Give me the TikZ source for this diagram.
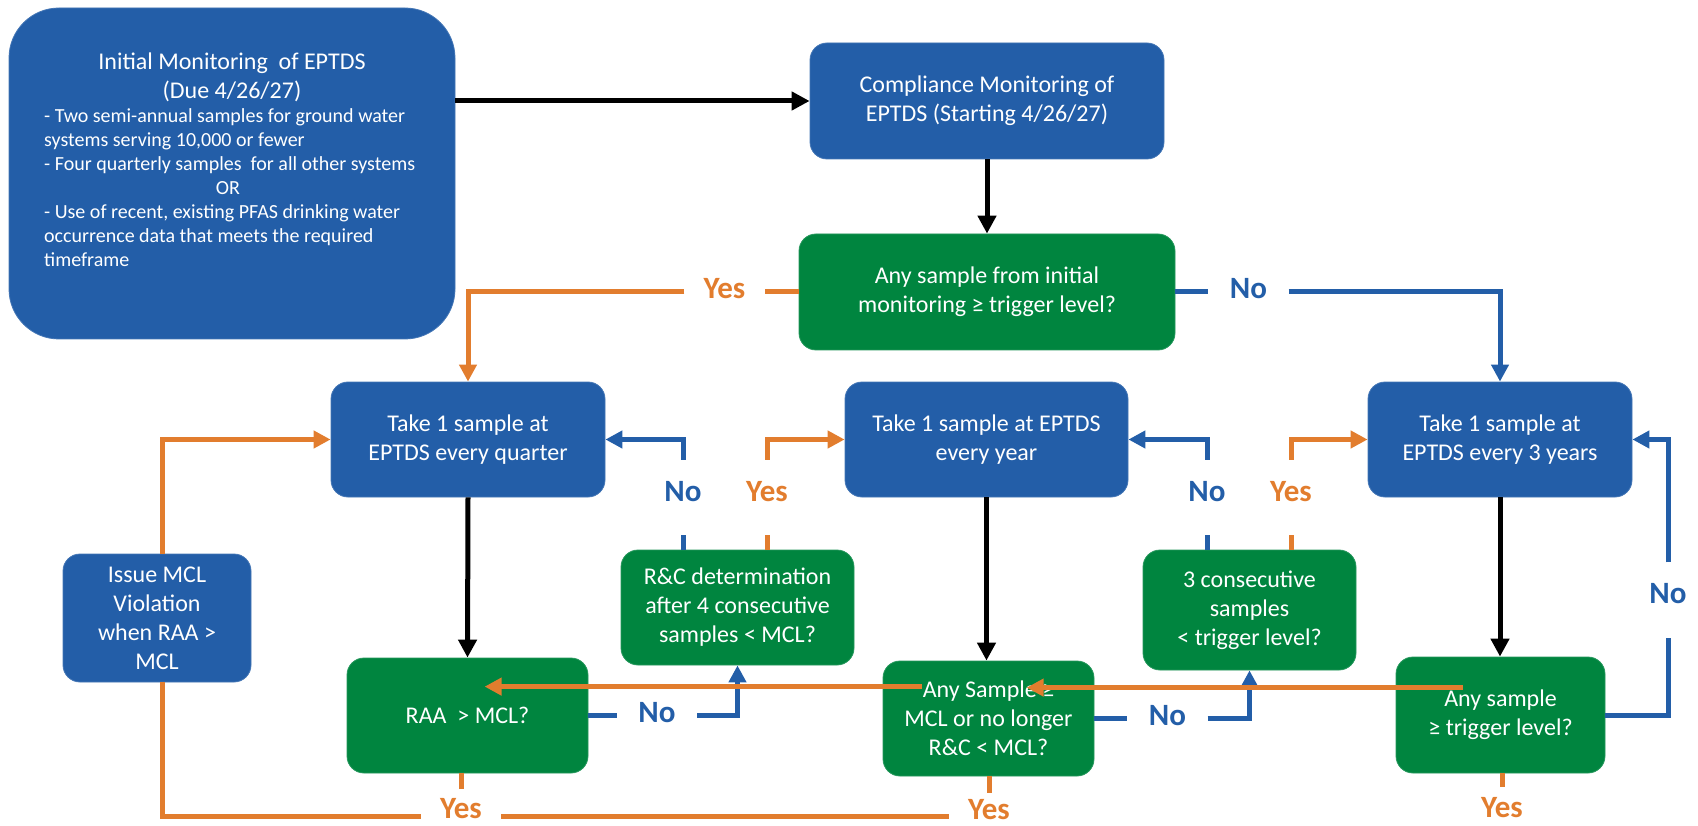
\documentclass[tikz,border=0pt]{standalone}
\usepackage{fontspec}
\setmainfont{Carlito}
\usetikzlibrary{arrows.meta}
\definecolor{boxblue}{HTML}{235EA8}
\definecolor{boxgreen}{HTML}{00853F}
\definecolor{lineorange}{HTML}{E27D2E}
\begin{document}
\begin{tikzpicture}[x=1pt,y=-1pt,
  box/.style={rectangle, rounded corners=17pt, text=white, align=center,
    font=\fontsize{24}{29}\selectfont, inner sep=0pt, draw=#1!85!white,
    line width=0.8pt, fill=#1},
  bluebox/.style={box=boxblue},
  greenbox/.style={box=boxgreen},
  wtext/.style={text=white, inner sep=0pt},
  lab/.style={font=\fontsize{31}{31}\selectfont\bfseries, inner sep=0pt,
    text height=21pt, text=#1},
  hlab/.style={lab=#1, minimum width=80pt, text depth=7pt},
  vlab/.style={lab=#1, minimum height=75pt, text depth=14pt},
  blab/.style={lab=#1, minimum width=80pt, text depth=0pt},
  bk/.style={draw=black, line width=5pt, -{Triangle[length=18pt,width=18pt]}},
  bl/.style={draw=boxblue, line width=5pt},
  ba/.style={bl, -{Triangle[length=17pt,width=17pt]}},
  ol/.style={draw=lineorange, line width=5pt},
  oa/.style={ol, -{Triangle[length=17pt,width=17pt]}}
]
\useasboundingbox (0,0) rectangle (1698,826);

% ---- boxes ----
\node[bluebox, rounded corners=50pt, minimum width=446pt, minimum height=331pt] (init) at (232,173.5) {};
\node[wtext, font=\fontsize{24}{29}\selectfont, anchor=base] (t1) at (232,70) {Initial Monitoring\ \ of EPTDS};
\node[wtext, font=\fontsize{24}{29}\selectfont, anchor=base] (t2) at (232,99) {(Due 4/26/27)};
\node[wtext, font=\fontsize{20}{24}\selectfont, anchor=base west] (b1) at (44,123) {- Two semi-annual samples for ground water};
\node[wtext, font=\fontsize{20}{24}\selectfont, anchor=base west] (b2) at (44,147) {systems serving 10,000 or fewer};
\node[wtext, font=\fontsize{20}{24}\selectfont, anchor=base west] (b3) at (44,171) {- Four quarterly samples\ \ for all other systems};
\node[wtext, font=\fontsize{20}{24}\selectfont, anchor=base] (b4) at (228,195) {OR};
\node[wtext, font=\fontsize{20}{24}\selectfont, anchor=base west] (b5) at (44,219) {- Use of recent, existing PFAS drinking water};
\node[wtext, font=\fontsize{20}{24}\selectfont, anchor=base west] (b6) at (44,243) {occurrence data that meets the required};
\node[wtext, font=\fontsize{20}{24}\selectfont, anchor=base west] (b7) at (44,267) {timeframe};

\node[bluebox, minimum width=354pt, minimum height=116pt] (comp) at (987,101) {Compliance Monitoring of\\EPTDS (Starting 4/26/27)};
\node[greenbox, minimum width=376pt, minimum height=116pt] (q1) at (987,292) {Any sample from initial\\monitoring ≥ trigger level?};
\node[bluebox, minimum width=274pt, minimum height=115pt] (quarter) at (468,439.5) {Take 1 sample at\\EPTDS every quarter};
\node[bluebox, minimum width=283pt, minimum height=115pt] (year) at (986.5,439.5) {Take 1 sample at EPTDS\\every year};
\node[bluebox, minimum width=264pt, minimum height=115pt] (three) at (1500,439.5) {Take 1 sample at\\EPTDS every 3 years};
\node[greenbox, minimum width=233pt, minimum height=115pt] (rc) at (737.5,607.5) {R\&C determination\\after 4 consecutive\\samples < MCL?};
\node[greenbox, minimum width=213pt, minimum height=120pt] (cons) at (1249.5,610) {3 consecutive\\samples\\< trigger level?};
\node[greenbox, minimum width=241pt, minimum height=115pt] (raa) at (467.5,715.5) {RAA\ \ > MCL?};
\node[greenbox, minimum width=211pt, minimum height=115pt] (mid) at (988.5,718.5) {Any Sample ≥\\MCL or no longer\\R\&C < MCL?};
\node[greenbox, minimum width=209pt, minimum height=116pt] (right) at (1500.5,715) {Any sample\\≥ trigger level?};
\node[bluebox, minimum width=188pt, minimum height=128pt] (issue) at (157,618) {Issue MCL\\Violation\\when RAA >\\MCL};

% ---- labels ----
\node[hlab=lineorange] (yq1) at (724.5,292) {Yes};
\node[hlab=boxblue] (nq1) at (1248.5,292) {No};
\node[vlab=boxblue] (nrc) at (683,497.5) {No};
\node[vlab=lineorange] (yrc) at (767,497.5) {Yes};
\node[vlab=boxblue] (ncons) at (1207,497.5) {No};
\node[vlab=lineorange] (ycons) at (1291,497.5) {Yes};
\node[vlab=boxblue] (nright) at (1668,600) {No};
\node[hlab=boxblue] (nraa) at (657,715.5) {No};
\node[hlab=boxblue] (nmid) at (1167.5,718.5) {No};
\node[blab=lineorange] (yraa) at (461,807.5) {Yes};
\node[blab=lineorange] (ymid) at (989,809) {Yes};
\node[blab=lineorange] (yright) at (1502,806.5) {Yes};
\coordinate (bline) at (461,816);

% ---- black arrows ----
\draw[bk] (comp.west -| init.east) -- (comp.west);
\draw[bk] (comp.south) -- (q1.north);
\draw[bk] (quarter.south) -- (raa.north);
\draw[bk] (year.south) -- (year.south |- mid.north);
\draw[bk] (three.south) -- (three.south |- right.north);

% ---- first decision ----
\draw[ol] (q1.west) -- (yq1.east);
\draw[oa] (yq1.west) -- (yq1.west -| quarter.north) -- (quarter.north);
\draw[bl] (q1.east) -- (nq1.west);
\draw[ba] (nq1.east) -- (nq1.east -| three.north) -- (three.north);

% ---- R&C and consecutive ----
\draw[bl] (rc.north -| nrc) -- (nrc.south);
\draw[ba] (nrc.north) -- (nrc.north |- quarter.east) -- (quarter.east);
\draw[ol] (rc.north -| yrc) -- (yrc.south);
\draw[oa] (yrc.north) -- (yrc.north |- year.west) -- (year.west);
\draw[bl] (cons.north -| ncons) -- (ncons.south);
\draw[ba] (ncons.north) -- (ncons.north |- year.east) -- (year.east);
\draw[ol] (cons.north -| ycons) -- (ycons.south);
\draw[oa] (ycons.north) -- (ycons.north |- three.west) -- (three.west);

% ---- right loop ----
\draw[bl] (right.east) -- (right.east -| nright) -- (nright.south);
\draw[ba] (nright.north) -- (nright.north |- three.east) -- (three.east);

% ---- bottom No ----
\draw[bl] (raa.east) -- (nraa.west);
\draw[ba] (nraa.east) -- (nraa.east -| rc.south) -- (rc.south);
\draw[bl] (mid.east) -- (nmid.west);
\draw[ba] (nmid.east) -- (nmid.east -| cons.south) -- (cons.south);

% ---- issue loop ----
\coordinate (itop) at ([xshift=5pt]issue.north);
\coordinate (ibot) at ([xshift=5pt]issue.south);
\draw[oa] (itop) -- (itop |- quarter.west) -- (quarter.west);
\draw[ol] (raa.south -| yraa) -- ++(0,16);
\draw[ol] (mid.south -| ymid) -- ++(0,17);
\draw[ol] (right.south -| yright) -- ++(0,14);
\draw[ol] (ymid.west |- bline) -- (yraa.east |- bline);
\draw[ol] (yraa.west |- bline) -- (bline -| ibot) -- (ibot);

% ---- orange arrows across boxes ----
\coordinate (rs) at ([xshift=67pt,yshift=-31pt]right.north west);
\coordinate (mt) at ([xshift=144pt]mid.west);
\draw[oa] (rs) -- (rs -| mt);
\coordinate (ms) at ([xshift=39pt,yshift=-26pt]mid.north west);
\coordinate (rt) at ([xshift=138pt]raa.west);
\draw[oa] (ms) -- (ms -| rt);
\end{tikzpicture}
\end{document}
